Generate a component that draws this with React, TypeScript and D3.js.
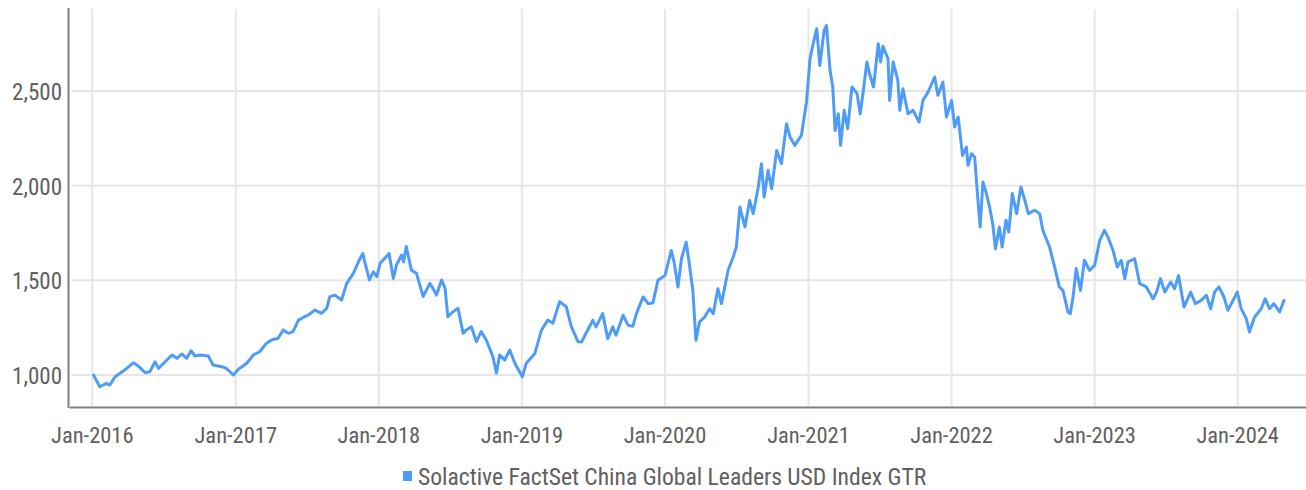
import React from "react";
import * as d3 from "d3";

const dates: string[] = [
  "2016-01-04","2016-01-20","2016-02-06","2016-02-15","2016-02-28","2016-03-12","2016-03-29","2016-04-15","2016-04-27","2016-05-15",
  "2016-05-27","2016-06-09","2016-06-18","2016-07-01","2016-07-22","2016-08-04","2016-08-17","2016-08-29","2016-09-09","2016-09-19",
  "2016-10-02","2016-10-23","2016-11-04","2016-11-26","2016-12-08","2016-12-26","2017-01-08","2017-01-29","2017-02-15","2017-03-03",
  "2017-03-20","2017-04-02","2017-04-19","2017-05-02","2017-05-15","2017-05-27","2017-06-10","2017-06-22","2017-07-05","2017-07-22",
  "2017-08-08","2017-08-21","2017-08-29","2017-09-11","2017-09-28","2017-10-11","2017-10-28","2017-11-10","2017-11-21","2017-11-27",
  "2017-12-08","2017-12-18","2017-12-27","2018-01-04","2018-01-16","2018-01-27","2018-02-07","2018-02-15","2018-02-28","2018-03-05",
  "2018-03-12","2018-03-25","2018-04-07","2018-04-24","2018-05-11","2018-05-19","2018-05-28","2018-06-10","2018-06-19","2018-06-26",
  "2018-07-09","2018-07-22","2018-08-04","2018-08-12","2018-08-25","2018-09-07","2018-09-19","2018-10-02","2018-10-19","2018-10-28",
  "2018-11-05","2018-11-18","2018-12-01","2018-12-14","2019-01-02","2019-01-12","2019-02-03","2019-02-20","2019-03-08","2019-03-21",
  "2019-04-07","2019-04-24","2019-05-07","2019-05-24","2019-06-02","2019-06-15","2019-07-01","2019-07-09","2019-07-26","2019-08-08",
  "2019-08-21","2019-08-29","2019-09-16","2019-09-29","2019-10-11","2019-10-20","2019-11-06","2019-11-19","2019-12-01","2019-12-14",
  "2020-01-01","2020-01-17","2020-01-25","2020-02-03","2020-02-12","2020-02-24","2020-03-03","2020-03-12","2020-03-20","2020-03-29",
  "2020-04-11","2020-04-24","2020-05-03","2020-05-15","2020-05-24","2020-06-10","2020-06-23","2020-07-01","2020-07-10","2020-07-23",
  "2020-08-04","2020-08-13","2020-08-26","2020-09-03","2020-09-10","2020-09-20","2020-09-29","2020-10-12","2020-10-24","2020-11-06",
  "2020-11-15","2020-11-27","2020-12-14","2020-12-27","2021-01-05","2021-01-13","2021-01-22","2021-01-30","2021-02-10","2021-02-16",
  "2021-02-25","2021-03-04","2021-03-10","2021-03-18","2021-03-24","2021-04-02","2021-04-11","2021-04-22","2021-05-05","2021-05-13",
  "2021-05-21","2021-05-30","2021-06-07","2021-06-16","2021-06-28","2021-07-04","2021-07-10","2021-07-23","2021-07-27","2021-08-05",
  "2021-08-17","2021-08-22","2021-08-30","2021-09-12","2021-09-25","2021-10-10","2021-10-20","2021-11-02","2021-11-19","2021-11-27",
  "2021-12-10","2021-12-19","2022-01-01","2022-01-09","2022-01-18","2022-01-29","2022-02-08","2022-02-12","2022-02-21","2022-03-01",
  "2022-03-09","2022-03-15","2022-03-22","2022-03-30","2022-04-08","2022-04-16","2022-04-23","2022-05-03","2022-05-10","2022-05-20",
  "2022-05-27","2022-06-05","2022-06-16","2022-06-27","2022-07-07","2022-07-16","2022-08-01","2022-08-14","2022-08-22","2022-09-08",
  "2022-09-21","2022-10-03","2022-10-12","2022-10-25","2022-10-31","2022-11-07","2022-11-15","2022-11-26","2022-12-06","2022-12-19",
  "2023-01-01","2023-01-14","2023-01-26","2023-02-04","2023-02-17","2023-02-28","2023-03-10","2023-03-19","2023-03-27","2023-04-13",
  "2023-04-26","2023-05-13","2023-05-30","2023-06-08","2023-06-18","2023-06-29","2023-07-14","2023-07-24","2023-08-03","2023-08-17",
  "2023-09-03","2023-09-15","2023-09-30","2023-10-13","2023-10-24","2023-11-03","2023-11-14","2023-11-27","2023-12-07","2023-12-20",
  "2023-12-31","2024-01-10","2024-01-23","2024-01-31","2024-02-13","2024-03-01","2024-03-11","2024-03-22","2024-04-02","2024-04-17",
  "2024-04-28",
];

const values: number[] = [
  1000,938,956,947,991,1009,1035,1065,1048,1012,
  1018,1070,1035,1062,1106,1088,1111,1088,1128,1100,
  1106,1100,1053,1044,1035,1000,1030,1062,1106,1123,
  1167,1185,1194,1238,1220,1229,1290,1304,1317,1343,
  1326,1352,1414,1422,1396,1484,1537,1598,1642,1590,
  1502,1545,1519,1590,1616,1642,1510,1581,1634,1598,
  1678,1554,1537,1414,1484,1458,1422,1502,1458,1308,
  1334,1352,1220,1238,1255,1176,1229,1185,1097,1009,
  1106,1079,1132,1062,991,1062,1114,1238,1290,1273,
  1387,1361,1255,1176,1174,1227,1289,1254,1324,1192,
  1254,1210,1315,1262,1257,1324,1412,1377,1380,1500,
  1526,1658,1588,1465,1614,1702,1588,1447,1183,1280,
  1306,1350,1324,1456,1377,1553,1623,1676,1887,1782,
  1922,1852,1993,2116,1940,2081,1984,2186,2116,2327,
  2257,2213,2266,2442,2670,2750,2829,2635,2820,2846,
  2609,2521,2292,2380,2213,2398,2301,2521,2486,2380,
  2503,2653,2582,2521,2750,2653,2736,2670,2450,2653,
  2556,2398,2512,2380,2398,2336,2450,2494,2574,2477,
  2547,2362,2450,2310,2362,2160,2204,2107,2169,2151,
  1931,1782,2019,1966,1887,1799,1667,1782,1676,1817,
  1755,1958,1852,1993,1922,1852,1870,1852,1764,1676,
  1570,1465,1447,1333,1324,1412,1562,1447,1606,1553,
  1579,1711,1764,1729,1658,1570,1606,1509,1597,1614,
  1482,1465,1403,1438,1509,1438,1491,1456,1526,1359,
  1438,1377,1394,1421,1350,1438,1465,1412,1342,1394,
  1438,1350,1298,1227,1306,1350,1403,1350,1377,1333,
  1394,
];

const yTicks: number[] = [1000, 1500, 2000, 2500];
const xTickYears: number[] = [2016, 2017, 2018, 2019, 2020, 2021, 2022, 2023, 2024];
const seriesName = "Solactive FactSet China Global Leaders USD Index GTR";

const W = 1306;
const H = 490;
const FONT = "'Liberation Sans Narrow', 'Roboto Condensed', 'DejaVu Sans Condensed', sans-serif";
const LINE_COLOR = "#4f9cf8";
const TEXT_COLOR = "#606060";
const GRID_COLOR = "#e6e6e6";
const AXIS_COLOR = "#7f7f7f";

export default function App() {
  const parse = d3.timeParse("%Y-%m-%d");
  const data = dates.map((d, i) => ({ date: parse(d) as Date, value: values[i] }));

  const x = d3
    .scaleTime()
    .domain([new Date(2016, 0, 1), new Date(2024, 0, 1)])
    .range([92.3, 1237.7]);
  const y = d3.scaleLinear().domain([1000, 2500]).range([375, 91]);

  const line = d3
    .line<{ date: Date; value: number }>()
    .x((d) => x(d.date))
    .y((d) => y(d.value))
    .curve(d3.curveLinear);

  const fmt = d3.format(",");
  const xFmt = d3.timeFormat("%b-%Y");

  const plotLeft = 71;
  const plotRight = W;
  const plotTop = 9;
  const plotBottom = 406;

  return (
    <svg
      width={W}
      height={H}
      style={{ position: "absolute", left: 0, top: 0, background: "#fff" }}
      fontFamily={FONT}
    >
      {yTicks.map((t) => (
        <line
          key={"hg" + t}
          x1={plotLeft}
          x2={plotRight}
          y1={y(t)}
          y2={y(t)}
          stroke={GRID_COLOR}
          strokeWidth={2}
        />
      ))}
      {xTickYears.map((yr) => (
        <line
          key={"vg" + yr}
          x1={x(new Date(yr, 0, 1))}
          x2={x(new Date(yr, 0, 1))}
          y1={plotTop}
          y2={plotBottom}
          stroke={GRID_COLOR}
          strokeWidth={2}
        />
      ))}
      <line x1={68.5} x2={68.5} y1={8} y2={408} stroke={AXIS_COLOR} strokeWidth={2} />
      <line x1={70} x2={W} y1={407.5} y2={407.5} stroke={AXIS_COLOR} strokeWidth={2.2} />

      {yTicks.map((t) => (
        <text
          key={"yl" + t}
          x={62}
          y={y(t) + 9}
          textAnchor="end"
          fontSize={23}
          fill={TEXT_COLOR}
        >
          {fmt(t)}
        </text>
      ))}
      {xTickYears.map((yr) => (
        <text
          key={"xl" + yr}
          x={x(new Date(yr, 0, 1))}
          y={443}
          textAnchor="middle"
          fontSize={22.5}
          fill={TEXT_COLOR}
        >
          {xFmt(new Date(yr, 0, 1))}
        </text>
      ))}

      <path
        d={line(data) || ""}
        fill="none"
        stroke={LINE_COLOR}
        strokeWidth={3}
        strokeLinejoin="round"
        strokeLinecap="round"
      />

      <rect x={403} y={471} width={9} height={10} fill={LINE_COLOR} />
      <text x={418} y={485} fontSize={23.6} fill={TEXT_COLOR}>
        {seriesName}
      </text>
    </svg>
  );
}
